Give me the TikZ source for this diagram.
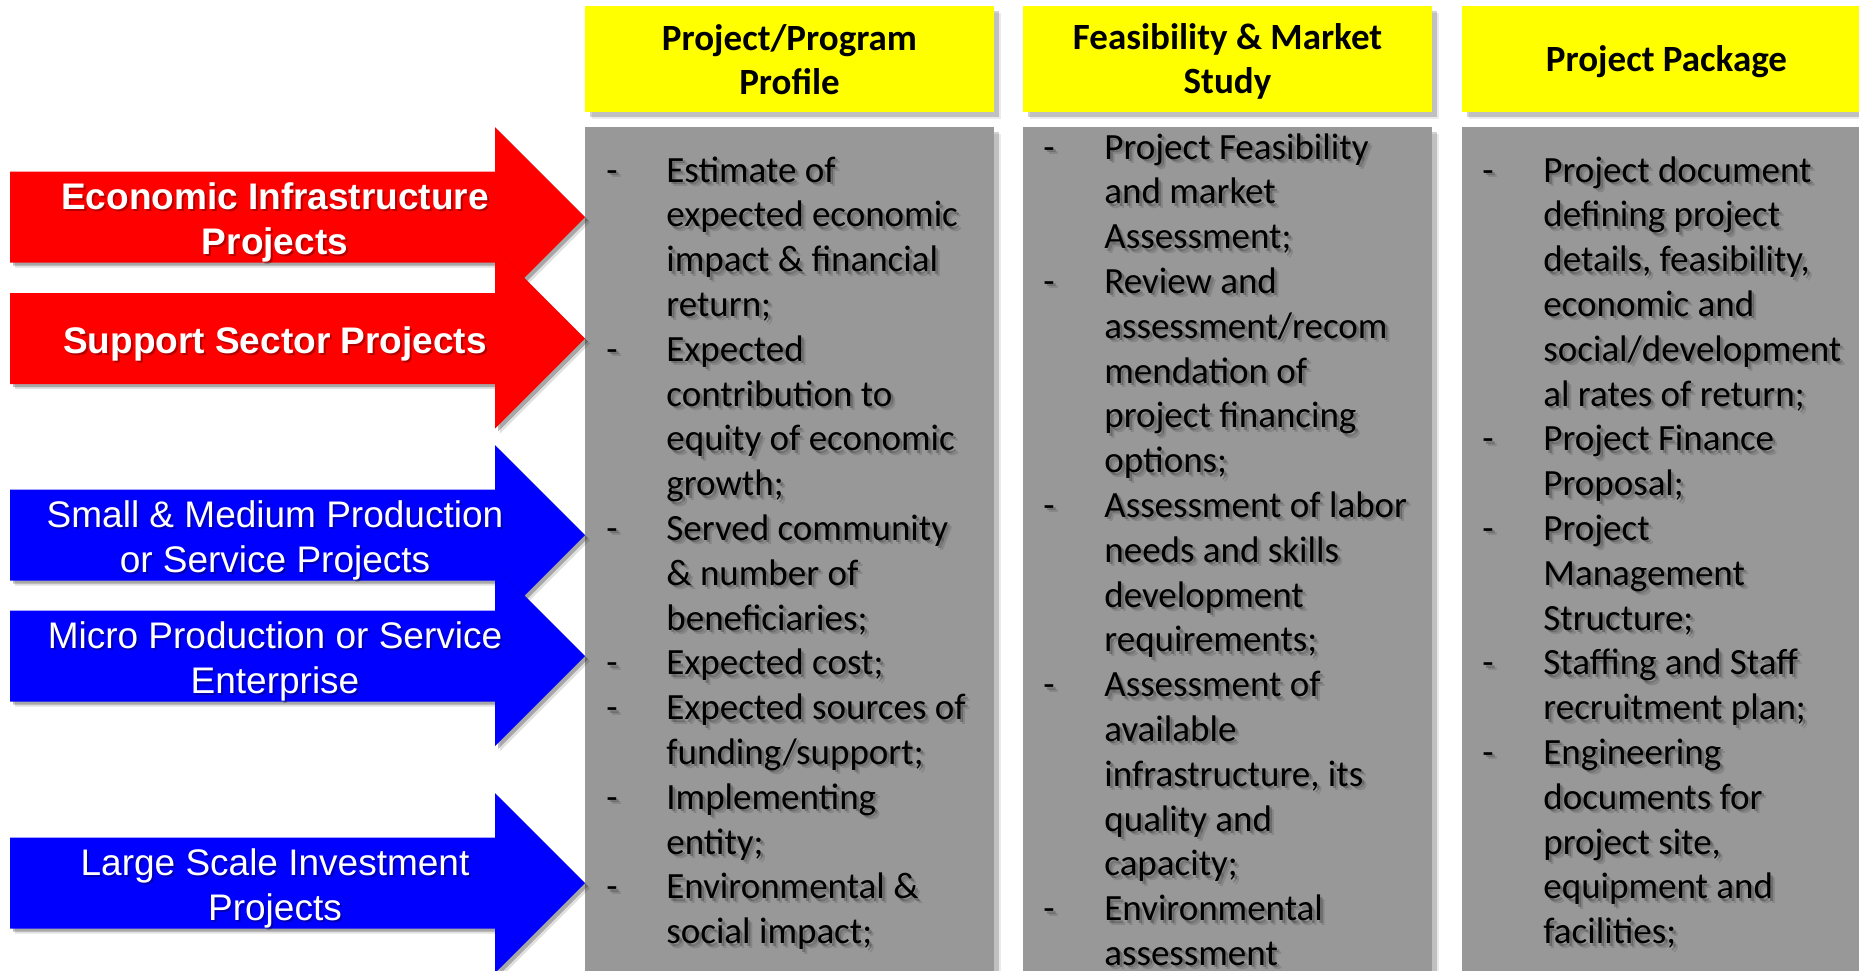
\documentclass[tikz,border=0pt]{standalone}
\usepackage{fontspec}
\setmainfont{Carlito}
\newfontfamily\arialfont{Liberation Sans}
\usetikzlibrary{calc}
\definecolor{hdryellow}{RGB}{255,255,0}
\definecolor{boxgray}{RGB}{152,152,152}
\definecolor{arrred}{RGB}{255,0,0}
\definecolor{arrblue}{RGB}{0,0,255}

\newcommand\colAtext{\begin{tabular}[t]{@{}p{30pt}@{}l@{}}
-&Estimate of\\
&expected economic\\
&impact \& financial\\
&return;\\
-&Expected\\
&contribution to\\
&equity of economic\\
&growth;\\
-&Served community\\
&\& number of\\
&beneficiaries;\\
-&Expected cost;\\
-&Expected sources of\\
&funding/support;\\
-&Implementing\\
&entity;\\
-&Environmental \&\\
&social impact;
\end{tabular}}

\newcommand\colBtext{\begin{tabular}[t]{@{}p{30.5pt}@{}l@{}}
-&Project Feasibility\\
&and market\\
&Assessment;\\
-&Review and\\
&assessment/recom\\
&mendation of\\
&project financing\\
&options;\\
-&Assessment of labor\\
&needs and skills\\
&development\\
&requirements;\\
-&Assessment of\\
&available\\
&infrastructure, its\\
&quality and\\
&capacity;\\
-&Environmental\\
&assessment
\end{tabular}}

\newcommand\colCtext{\begin{tabular}[t]{@{}p{30.5pt}@{}l@{}}
-&Project document\\
&defining project\\
&details, feasibility,\\
&economic and\\
&social/development\\
&al rates of return;\\
-&Project Finance\\
&Proposal;\\
-&Project\\
&Management\\
&Structure;\\
-&Staffing and Staff\\
&recruitment plan;\\
-&Engineering\\
&documents for\\
&project site,\\
&equipment and\\
&facilities;
\end{tabular}}

% name, position, style, content  (text with soft drop shadow)
\newcommand\shtext[4]{%
  \node[#3, text=black, opacity=0.22] at ($#2+(2.5,2.5)$) {#4};
  \node[#3, text=black, opacity=0.12] at ($#2+(4.5,4.5)$) {#4};
  \node[#3] (#1) at #2 {#4};
}
% name, tip y, colour, style, text
\newcommand\bigarrow[5]{%
  \fill[black, opacity=0.12] ($(10,#2-45.5)+(5,5)$) -- ++(485,0) -- ++(0,-44.5) -- ++(90,90) -- ++(-90,90) -- ++(0,-44.5) -- ++(-485,0) -- cycle;
  \fill[black, opacity=0.25] ($(10,#2-45.5)+(3,3)$) -- ++(485,0) -- ++(0,-44.5) -- ++(90,90) -- ++(-90,90) -- ++(0,-44.5) -- ++(-485,0) -- cycle;
  \fill[#3] (10,#2-45.5) -- (495,#2-45.5) -- (495,#2-90) -- (585,#2) -- (495,#2+90) -- (495,#2+45.5) -- (10,#2+45.5) -- cycle;
  \node[#4, text=black, opacity=0.3] at (277,#2+7) {#5};
  \node[#4] (#1) at (275,#2+5) {#5};
}

\tikzset{
  hdrbox/.style={fill=hdryellow},
  graybox/.style={fill=boxgray},
  boxshadow/.style={fill=black, opacity=0.18},
  hdrtext/.style={inner sep=0pt, align=center, font=\bfseries\fontsize{18.5}{22}\selectfont},
  itemtext/.style={inner sep=0pt, anchor=base west, font=\fontsize{18.5}{22.4}\selectfont},
  redlabel/.style={inner sep=0pt, align=center, text=white, font=\arialfont\bfseries\fontsize{18.5}{22.5}\selectfont},
  bluelabel/.style={inner sep=0pt, align=center, text=white, font=\arialfont\fontsize{18.5}{22.5}\selectfont},
}

\begin{document}
\begin{tikzpicture}[x=0.5pt, y=-0.5pt]
\useasboundingbox (0,0) rectangle (1859,970);
\clip (0,0) rectangle (1859,970);
\fill[white] (0,0) rectangle (1859,970);

% column boxes
\foreach \xl in {585,1023,1462}{
  \fill[boxshadow] (\xl+5,6+5) rectangle (\xl+409+5,112+5);
  \fill[black, opacity=0.08] (\xl+7,6+7) rectangle (\xl+409+7,112+7);
  \fill[hdrbox] (\xl,6) rectangle (\xl+409,112);
  \fill[boxshadow] (\xl+5,127+5) rectangle (\xl+409+5,990);
  \fill[black, opacity=0.08] (\xl+7,127+7) rectangle (\xl+409+7,990);
  \fill[graybox] (\xl,127) rectangle (\xl+409,990);
}

% headers
\node[hdrtext] (h1) at (789.5,60) {Project/Program\\Profile};
\node[hdrtext] (h2) at (1227.5,61) {Feasibility \& Market\\Study};
\node[hdrtext] (h3) at (1666.5,62) {Project Package};

% column texts
\shtext{c1}{(606,182)}{itemtext}{\colAtext}
\shtext{c2}{(1043,159)}{itemtext}{\colBtext}
\shtext{c3}{(1482,182)}{itemtext}{\colCtext}

% arrows
\bigarrow{a1}{217}{arrred}{redlabel}{Economic Infrastructure\\Projects}
\bigarrow{a2}{338.5}{arrred}{redlabel}{Support Sector Projects}
\bigarrow{a3}{535}{arrblue}{bluelabel}{Small \& Medium Production\\or Service Projects}
\bigarrow{a4}{656}{arrblue}{bluelabel}{Micro Production or Service\\Enterprise}
\bigarrow{a5}{883}{arrblue}{bluelabel}{Large Scale Investment\\Projects}
\end{tikzpicture}
\end{document}
